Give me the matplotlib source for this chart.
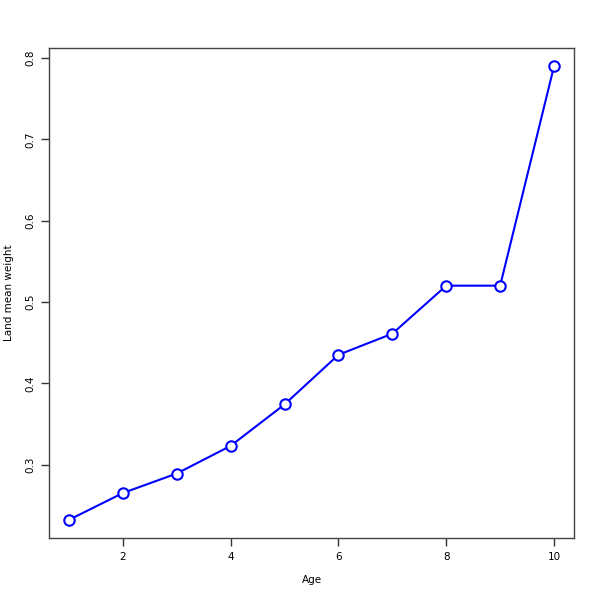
import matplotlib
matplotlib.use('Agg')
import matplotlib.pyplot as plt
import numpy as np

# Datos: edad y peso medio
age = [1, 2, 3, 4, 5, 6, 7, 8, 9, 10]
weight = [0.232, 0.265, 0.289, 0.323, 0.374, 0.435, 0.461, 0.520, 0.520, 0.790]

fig = plt.figure(figsize=(6, 6), dpi=100)
ax = fig.add_axes([49/600, 1-538/600, (574-49)/600, (538-48)/600])

ax.plot(age, weight, '-', color='blue', linewidth=1.5, marker='o',
        markersize=7.5, markerfacecolor='white', markeredgecolor='blue',
        markeredgewidth=1.5)

ax.set_xlim(0.63, 10.37)
ax.set_ylim(0.2097, 0.8123)
ax.set_xticks([2, 4, 6, 8, 10])
ax.set_yticks([0.3, 0.4, 0.5, 0.6, 0.7, 0.8])
ax.set_xticklabels(['2', '4', '6', '8', '10'])
ax.set_yticklabels(['0.3', '0.4', '0.5', '0.6', '0.7', '0.8'], rotation=90, va='center')
ax.tick_params(direction='out', length=6, width=1, labelsize=7.5, color='#333333')
ax.tick_params(axis='x', pad=4)
ax.tick_params(axis='y', pad=4)

for s in ax.spines.values():
    s.set_color('#444444')
    s.set_linewidth(1)

fig.text(312/600, 1-580/600, 'Age', ha='center', va='center', fontsize=7.5)
fig.text(9/600, 1-293/600, 'Land mean weight', ha='center', va='center',
         rotation=90, fontsize=7.5)

plt.savefig('out.png', dpi=100)
